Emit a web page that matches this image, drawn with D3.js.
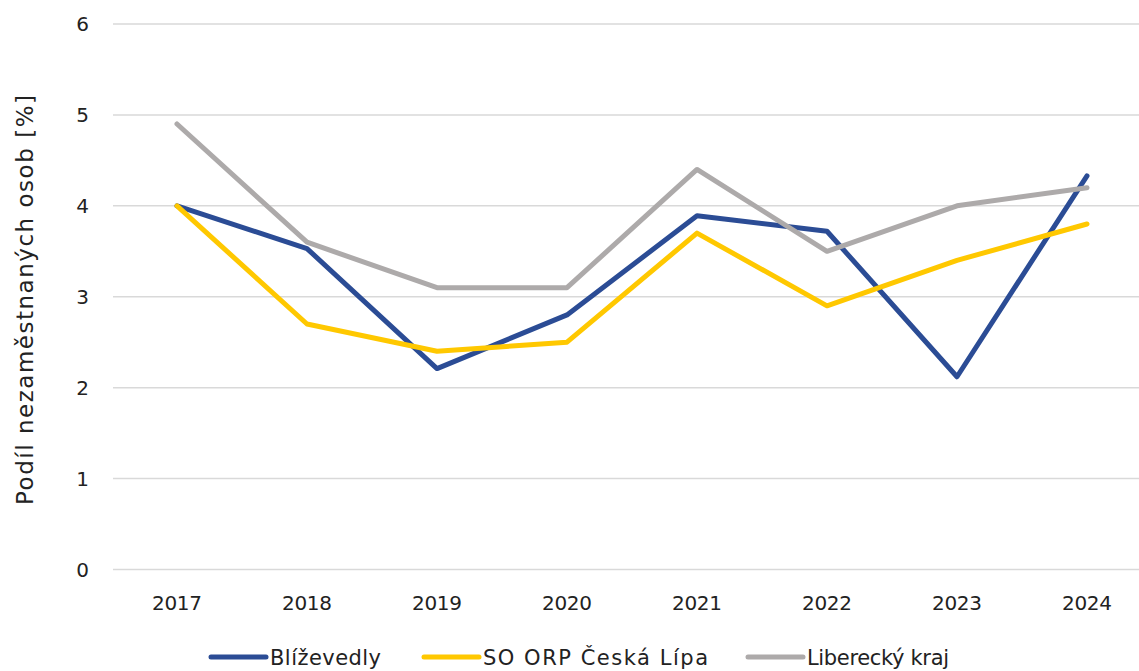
<!DOCTYPE html>
<html><head><meta charset="utf-8">
<script src="https://cdn.jsdelivr.net/npm/d3@7"></script>
<style>
body{margin:0;background:#fff;}
svg{display:block;font-family:"DejaVu Sans",sans-serif;}
</style></head>
<body><svg id="c" width="1139" height="671"></svg>
<script>
const years = ["2017","2018","2019","2020","2021","2022","2023","2024"];
const blizevedly = [4.0,3.53,2.21,2.8,3.89,3.72,2.12,4.33];
const soOrp = [4.0,2.7,2.4,2.5,3.7,2.9,3.4,3.8];
const liberecky = [4.9,3.6,3.1,3.1,4.4,3.5,4.0,4.2];
const yTicks = [0,1,2,3,4,5,6];
const seriesNames = ["Blíževedly","SO ORP Česká Lípa","Liberecký kraj"];
const seriesColors = ["#2B4C95","#FFC800","#ADAAAA"];
const seriesData = [blizevedly, soOrp, liberecky];

const svg = d3.select("#c");
const x = d3.scalePoint().domain(years).range([177,1087]);
const y = d3.scaleLinear().domain([0,6]).range([569.5,24]);

svg.append("g").selectAll("line").data(yTicks).join("line")
  .attr("x1",113).attr("x2",1139)
  .attr("y1",d=>y(d)).attr("y2",d=>y(d))
  .attr("stroke","#D9D9D9").attr("stroke-width",1.5);

svg.append("g").selectAll("text").data(yTicks).join("text")
  .attr("x",89).attr("y",d=>y(d)).attr("dy","0.36em")
  .attr("text-anchor","end").attr("font-size",20).attr("fill","#222")
  .text(d=>d);

svg.append("g").selectAll("text").data(years).join("text")
  .attr("x",d=>x(d)).attr("y",610)
  .attr("text-anchor","middle").attr("font-size",20).attr("fill","#222")
  .attr("textLength",50).attr("lengthAdjust","spacing")
  .text(d=>d);

svg.append("text")
  .attr("transform","translate(33,300) rotate(-90)")
  .attr("text-anchor","middle").attr("font-size",23).attr("fill","#222")
  .attr("textLength",410).attr("lengthAdjust","spacing")
  .text("Podíl nezaměstnaných osob [%]");

const line = d3.line().x((d,i)=>x(years[i])).y(d=>y(d));
seriesData.forEach((s,k)=>{
  svg.append("path").datum(s).attr("d",line)
    .attr("fill","none").attr("stroke",seriesColors[k])
    .attr("stroke-width",5).attr("stroke-linejoin","round").attr("stroke-linecap","round");
});

const legX = [211,424,748];
const legW = [111,225,142];
const lg = svg.append("g");
seriesNames.forEach((n,k)=>{
  lg.append("line").attr("x1",legX[k]).attr("x2",legX[k]+55)
    .attr("y1",657).attr("y2",657)
    .attr("stroke",seriesColors[k]).attr("stroke-width",5).attr("stroke-linecap","round");
  lg.append("text").attr("x",legX[k]+59).attr("y",665)
    .attr("font-size",21).attr("fill","#222")
    .attr("textLength",legW[k]).attr("lengthAdjust","spacing").text(n);
});
</script></body></html>
